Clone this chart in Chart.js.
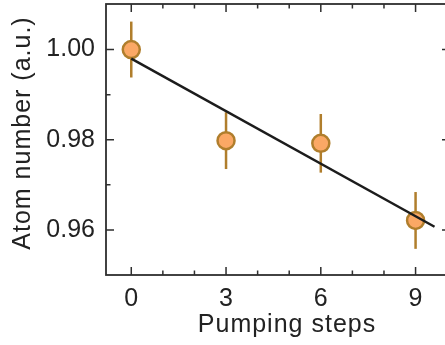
<!DOCTYPE html>
<html>
<head>
<meta charset="utf-8">
<script src="https://cdn.jsdelivr.net/npm/chart.js@4.4.1/dist/chart.umd.min.js"></script>
<style>
  html, body { margin: 0; padding: 0; background: #fff; overflow: hidden; width: 445px; height: 345px; }
</style>
</head>
<body>
<canvas id="atoms" width="450" height="345"></canvas>
<script>
// data
const steps = [0, 3, 6, 9];
const atomNumber = [1.000, 0.9798, 0.9792, 0.9621];
const atomErr = [0.0062, 0.0063, 0.0065, 0.0063];

// linear fit
const fitX = [0, 9.6];
const fitY = [0.998, 0.9607];

// ticks
const xTicks = [0, 3, 6, 9];
const xMinor = [1, 2, 4, 5, 7, 8, 10];
const yTicks = [0.96, 0.98, 1.00];
const yMinor = [0.97, 0.99];

const FONT = '"Liberation Sans", Arial, Helvetica, sans-serif';
const INK = '#222222';
const AXIS = '#2e2e2e';
const BAR = '#b07e2c';

const axesPlugin = {
  id: 'axesPlugin',
  beforeDatasetDraw(chart, args) {
    if (args.index !== 1) return;
    const ctx = chart.ctx;
    const xs = chart.scales.x, ys = chart.scales.y;
    ctx.save();
    ctx.strokeStyle = BAR;
    ctx.lineWidth = 2.5;
    steps.forEach(function (s, i) {
      const px = xs.getPixelForValue(s);
      ctx.beginPath();
      ctx.moveTo(px, ys.getPixelForValue(atomNumber[i] + atomErr[i]));
      ctx.lineTo(px, ys.getPixelForValue(atomNumber[i] - atomErr[i]));
      ctx.stroke();
    });
    ctx.restore();
  },
  afterDraw(chart) {
    const ctx = chart.ctx;
    const a = chart.chartArea;
    const xs = chart.scales.x, ys = chart.scales.y;
    ctx.save();
    ctx.strokeStyle = AXIS;
    ctx.lineWidth = 1.8;
    ctx.strokeRect(a.left, a.top, a.right - a.left, a.bottom - a.top);

    ctx.lineWidth = 1.5;
    function xTick(v, len) {
      const px = xs.getPixelForValue(v);
      if (px > a.right - 1) return;
      ctx.beginPath();
      ctx.moveTo(px, a.bottom); ctx.lineTo(px, a.bottom - len);
      ctx.moveTo(px, a.top); ctx.lineTo(px, a.top + len);
      ctx.stroke();
    }
    function yTick(v, len) {
      const py = ys.getPixelForValue(v);
      ctx.beginPath();
      ctx.moveTo(a.left, py); ctx.lineTo(a.left + len, py);
      ctx.moveTo(a.right, py); ctx.lineTo(a.right - len, py);
      ctx.stroke();
    }
    xTicks.forEach(v => xTick(v, 8));
    xMinor.forEach(v => xTick(v, 4.5));
    yTicks.forEach(v => yTick(v, 8));
    yMinor.forEach(v => yTick(v, 4.5));

    // axis titles
    ctx.fillStyle = INK;
    ctx.font = '25px ' + FONT;
    ctx.letterSpacing = '1px';
    ctx.textAlign = 'center';
    ctx.textBaseline = 'alphabetic';
    ctx.fillText('Pumping steps', 287, 332);
    ctx.translate(30, 133);
    ctx.rotate(-Math.PI / 2);
    ctx.fillText('Atom number (a.u.)', 0, 0);
    ctx.restore();
  }
};

function noPad(s) {
  s.paddingTop = 0; s.paddingBottom = 0;
  s.paddingLeft = 0; s.paddingRight = 0;
}

const fitPoints = fitX.map((x, i) => ({ x: x, y: fitY[i] }));
const dataPoints = steps.map((x, i) => ({ x: x, y: atomNumber[i] }));

new Chart(document.getElementById('atoms').getContext('2d'), {
  type: 'scatter',
  data: {
    datasets: [{
      type: 'line',
      label: 'fit',
      data: fitPoints,
      borderColor: '#1c1c1c',
      borderWidth: 2.5,
      pointRadius: 0,
      fill: false
    }, {
      label: 'Atom number',
      data: dataPoints,
      backgroundColor: '#fba865',
      borderColor: BAR,
      borderWidth: 2.5,
      pointRadius: 8.5
    }]
  },
  options: {
    responsive: false,
    animation: false,
    layout: { autoPadding: false, padding: { top: 4, right: 0, left: 0, bottom: 0 } },
    plugins: { legend: { display: false }, tooltip: { enabled: false } },
    scales: {
      x: {
        type: 'linear',
        min: -0.8,
        max: 10.09,
        grid: { display: false, drawTicks: false },
        border: { display: false },
        afterBuildTicks: s => { s.ticks = xTicks.map(v => ({ value: v })); },
        afterFit: s => { s.height = 70; noPad(s); },
        ticks: {
          padding: 9,
          color: INK,
          font: { family: FONT, size: 25 },
          callback: v => String(v)
        }
      },
      y: {
        min: 0.95,
        max: 1.0101,
        grid: { display: false, drawTicks: false },
        border: { display: false },
        afterBuildTicks: s => { s.ticks = yTicks.map(v => ({ value: v })); },
        afterFit: s => { s.width = 106; noPad(s); },
        ticks: {
          padding: 11,
          color: INK,
          font: { family: FONT, size: 25 },
          callback: v => v.toFixed(2)
        }
      }
    }
  },
  plugins: [axesPlugin]
});
</script>
</body>
</html>
